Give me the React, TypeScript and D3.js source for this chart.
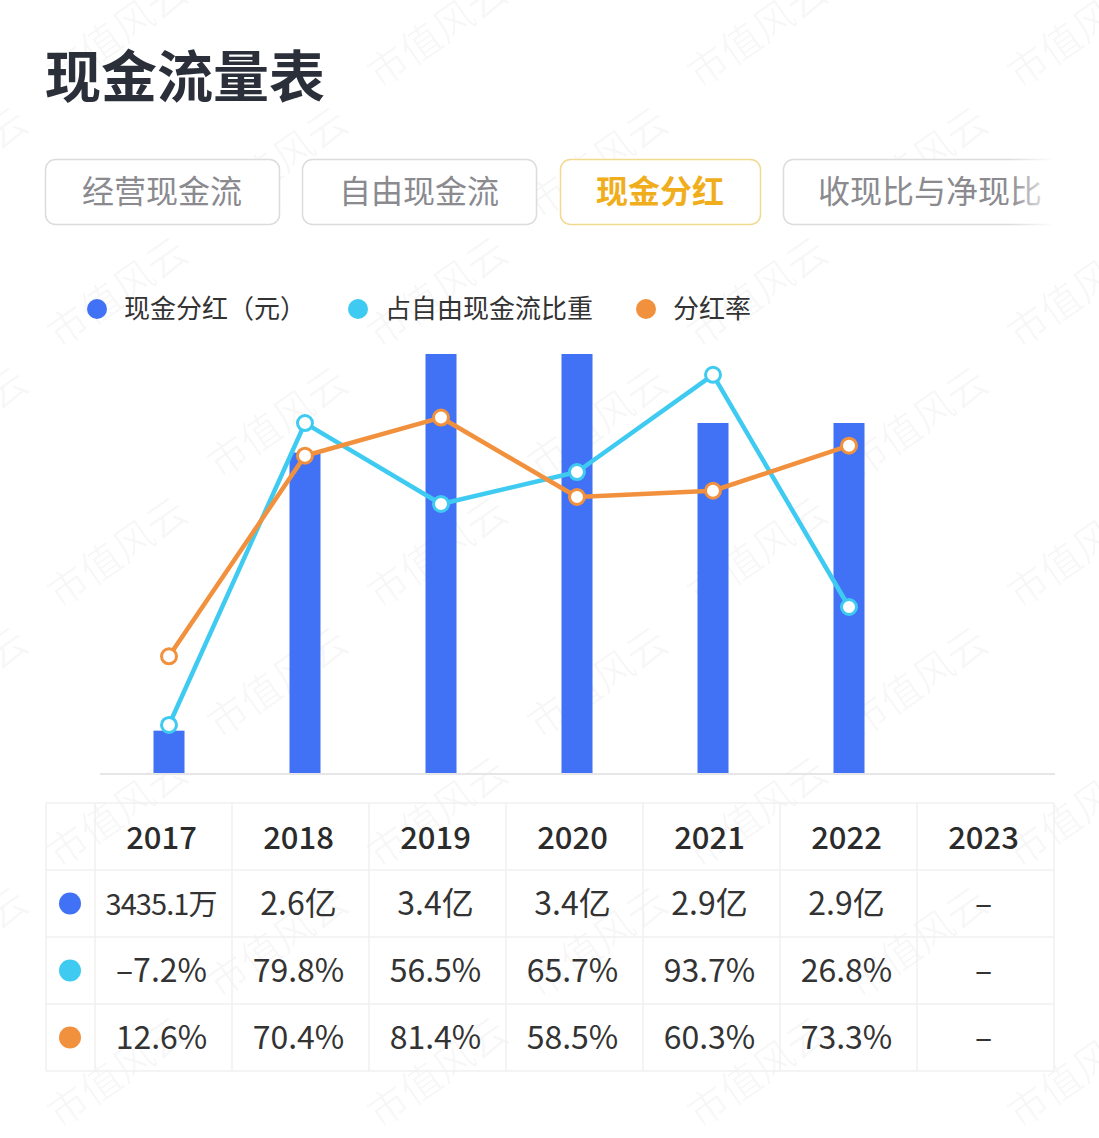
import React from 'react';
import * as d3 from 'd3';

// 数据
const years = ['2017', '2018', '2019', '2020', '2021', '2022', '2023'];
const dividend = [0.3435, 2.6, 3.4, 3.4, 2.84, 2.84]; // 亿元
const dividendLabels = ['3435.1万', '2.6亿', '3.4亿', '3.4亿', '2.9亿', '2.9亿', '–'];
const fcfShare = [-7.2, 79.8, 56.5, 65.7, 93.7, 26.8]; // %
const payoutRatio = [12.6, 70.4, 81.4, 58.5, 60.3, 73.3]; // %
const tabs = ['经营现金流', '自由现金流', '现金分红', '收现比与净现比'];
const legendNames = ['现金分红（元）', '占自由现金流比重', '分红率'];

const BLUE = '#4171f5';
const CYAN = '#3fcbf1';
const ORANGE = '#f2913d';
const FONT = '"Noto Sans CJK SC", "Noto Sans", sans-serif';

const W = 1099;
const H = 1138;

const App = () => {
  const x = d3.scaleBand().domain(years).range([101, 1053]).paddingInner(0);
  const bw = 31;
  const yBar = d3.scaleLinear().domain([0, 3.4]).range([773, 354]);
  const yPct = d3.scaleLinear().domain([0, 100]).range([700, 353]);
  const cx = (i: number) => (x(years[i]) as number) + x.bandwidth() / 2;

  const line = d3.line<number>()
    .x((_, i) => cx(i))
    .y(d => yPct(d));

  // 表格
  const colX = d3.scaleBand().domain(years).range([95, 1054]);
  const rowY = [803, 870, 937, 1004, 1071];
  const tableRows = [
    { color: BLUE, cells: dividendLabels },
    { color: CYAN, cells: fcfShare.map(v => `${v < 0 ? '–' : ''}${Math.abs(v).toFixed(1)}%`).concat(['–']) },
    { color: ORANGE, cells: payoutRatio.map(v => `${v.toFixed(1)}%`).concat(['–']) },
  ];

  const tabBoxes = [
    { x: 45, w: 234 },
    { x: 302, w: 234 },
    { x: 560, w: 200 },
    { x: 783, w: 300 },
  ];

  // 水印
  const marks: [number, number][] = [];
  for (let r = -1; r < 10; r++) {
    for (let c = -1; c < 5; c++) {
      marks.push([c * 320 + (r % 2) * 160 + 60, r * 130 + 90]);
    }
  }

  return (
    <svg width={W} height={H} style={{ position: 'absolute', left: 0, top: 0, background: '#fff' }} fontFamily={FONT}>
      <defs>
        <clipPath id="tabclip"><rect x={0} y={140} width={1052} height={100} /></clipPath>
        <linearGradient id="fade" x1="0" x2="1" y1="0" y2="0">
          <stop offset="0" stopColor="#fff" stopOpacity={0} />
          <stop offset="1" stopColor="#fff" stopOpacity={1} />
        </linearGradient>
      </defs>
      <rect width={W} height={H} fill="#fff" />

      {/* 水印 */}
      {marks.map(([mx, my], i) => (
        <text key={i} x={mx} y={my} fontSize={40} fill="#000" fillOpacity={0.03}
          transform={`rotate(-35 ${mx} ${my})`}>市值风云</text>
      ))}

      {/* 标题 */}
      <text x={45} y={97} fontSize={56} fontWeight={700} fill="#2a2f3a">现金流量表</text>

      {/* 标签页 */}
      <g clipPath="url(#tabclip)">
        {tabs.map((t, i) => {
          const b = tabBoxes[i];
          const active = i === 2;
          return (
            <g key={t}>
              <rect x={b.x + 0.5} y={159.5} width={b.w} height={65} rx={10}
                fill="#fff" stroke={active ? '#f1d98f' : '#dcdcdc'} strokeWidth={1.5} />
              <text x={i === 3 ? b.x + 35 : b.x + b.w / 2} y={203} fontSize={32}
                textAnchor={i === 3 ? 'start' : 'middle'}
                fill={active ? '#f0ae1c' : '#8a8a8f'} fontWeight={active ? 700 : 400}>{t}</text>
            </g>
          );
        })}
      </g>
      <rect x={1010} y={150} width={45} height={85} fill="url(#fade)" />

      {/* 图例 */}
      {legendNames.map((n, i) => {
        const lx = [97, 358, 646][i];
        const c = [BLUE, CYAN, ORANGE][i];
        return (
          <g key={n}>
            <circle cx={lx} cy={309} r={10} fill={c} />
            <text x={lx + 27} y={318} fontSize={26} fill="#333">{n}</text>
          </g>
        );
      })}

      {/* 基线 */}
      <line x1={100} x2={1055} y1={774} y2={774} stroke="#e6e6e6" strokeWidth={2} />

      {/* 柱 */}
      {dividend.map((v, i) => (
        <rect key={i} x={cx(i) - bw / 2} y={yBar(v)} width={bw} height={yBar(0) - yBar(v)} fill={BLUE} />
      ))}

      {/* 折线 */}
      <path d={line(fcfShare) as string} fill="none" stroke={CYAN} strokeWidth={4.5} strokeLinejoin="round" />
      <path d={line(payoutRatio) as string} fill="none" stroke={ORANGE} strokeWidth={4.5} strokeLinejoin="round" />
      {fcfShare.map((v, i) => (
        <circle key={'c' + i} cx={cx(i)} cy={yPct(v)} r={7.5} fill="#fff" stroke={CYAN} strokeWidth={3} />
      ))}
      {payoutRatio.map((v, i) => (
        <circle key={'o' + i} cx={cx(i)} cy={yPct(v)} r={7.5} fill="#fff" stroke={ORANGE} strokeWidth={3} />
      ))}

      {/* 表格 */}
      <g stroke="#f0f0f0" strokeWidth={1.5}>
        {rowY.map(y => <line key={y} x1={46} x2={1054} y1={y} y2={y} />)}
        <line x1={46} x2={46} y1={803} y2={1071} />
        <line x1={95} x2={95} y1={803} y2={1071} />
        {years.map(yr => {
          const x0 = (colX(yr) as number) + colX.bandwidth();
          return <line key={yr} x1={x0} x2={x0} y1={803} y2={1071} />;
        })}
      </g>
      {years.map(yr => (
        <text key={yr} x={(colX(yr) as number) + colX.bandwidth() / 2 - 2} y={849} fontSize={31}
          fontWeight={500} textAnchor="middle" fill="#2b2b2b">{yr}</text>
      ))}
      {tableRows.map((row, ri) => {
        const yc = (rowY[ri + 1] + rowY[ri + 2]) / 2;
        return (
          <g key={ri}>
            <circle cx={70} cy={yc} r={11} fill={row.color} />
            {row.cells.map((c, ci) => (
              <text key={ci} x={(colX(years[ci]) as number) + colX.bandwidth() / 2 - 2} y={yc + 11}
                fontSize={ri === 0 && ci === 0 ? 29 : 32} textAnchor="middle" fill="#333"
                textLength={ri === 0 && ci === 0 ? 112 : undefined}>{c}</text>
            ))}
          </g>
        );
      })}
    </svg>
  );
};

export default App;
